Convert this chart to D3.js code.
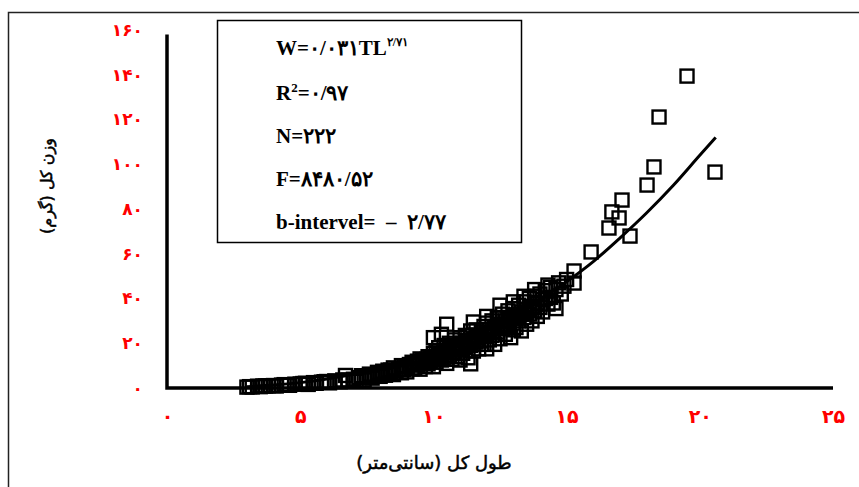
<!DOCTYPE html>
<html><head><meta charset="utf-8">
<script src="https://cdn.jsdelivr.net/npm/d3@7"></script>
<style>
html,body{margin:0;padding:0;background:#fff;}
svg{display:block;}
</style></head>
<body><svg id="c" width="859" height="487"></svg>
<script>
const xTicks = [0, 5, 10, 15, 20, 25];
const yTicks = [0, 20, 40, 60, 80, 100, 120, 140, 160];
const xTitle = "طول کل (سانتی‌متر)";
const yTitle = "وزن کل (گرم)";
const statLines = ["R", "N=۲۲۲", "F=۸۴۸۰/۵۲", "b-intervel=  –  ۲/۷۷"];
// scatter: [total length (cm), weight (g)]
const lengths = [3.0,3.1,3.2,3.4,3.5,3.7,3.8,4.0,4.1,4.3,4.5,4.6,4.8,5.0,5.1,5.3,5.5,5.6,5.8,6.0,6.1,6.3,6.5,6.7,6.8,7.0,7.1,
7.2,7.3,7.4,7.5,7.6,7.7,7.8,7.9,8.0,8.0,
8.1,8.2,8.3,8.3,8.4,8.5,8.5,8.6,8.7,8.8,8.8,8.9,9.0,9.0,
9.1,9.2,9.2,9.3,9.4,9.4,9.5,9.5,9.6,9.7,9.7,9.8,9.8,9.9,10.0,10.0,10.0,10.0,
10.1,10.1,10.2,10.2,10.3,10.3,10.3,10.4,10.4,10.5,10.5,10.5,10.6,10.6,10.7,10.7,10.8,10.8,10.9,10.9,11.0,11.0,11.0,
11.1,11.1,11.2,11.2,11.3,11.3,11.4,11.4,11.4,11.5,11.5,11.5,11.6,11.6,11.7,11.7,11.8,11.8,11.9,11.9,12.0,12.0,12.0,12.0,
12.1,12.1,12.2,12.2,12.3,12.3,12.4,12.4,12.5,12.5,12.5,12.6,12.6,12.7,12.7,12.8,12.8,12.9,12.9,13.0,13.0,13.0,13.0,
13.1,13.1,13.2,13.2,13.3,13.3,13.4,13.4,13.4,13.5,13.5,13.6,13.6,13.7,13.7,13.8,13.8,13.8,13.9,13.9,14.0,14.0,
14.1,14.1,14.2,14.3,14.3,14.4,14.4,14.5,14.6,14.6,14.7,14.8,14.9,15.0,
15.28,15.28,15.92,16.59,16.70,16.97,17.08,17.38,18.02,18.28,18.47,19.52,20.57,
8.4,8.9,9.3,9.6,9.9,10.2,10.4,10.6,10.8,11.0,11.2,11.3,11.6,11.8,12.1,12.3,12.6,12.8,13.1,13.3,13.6,13.9,14.2,7.6,8.1,3.6,4.4,5.2,5.9,6.6,
10.15,10.45,10.75,11.05,11.35,11.65,11.95,12.25,12.55,12.85,13.15,13.45,13.75,9.45,9.75];
const weights = [0.4,0.6,0.5,0.8,0.6,0.9,1.0,1.1,0.9,1.3,1.4,1.2,1.7,1.8,2.0,1.6,2.4,2.1,2.6,2.9,2.3,3.2,2.8,5.6,3.5,3.9,3.0,
4.6,5.5,3.6,5.0,6.2,4.4,5.8,7.0,5.2,6.6,
7.5,5.7,8.0,6.4,7.0,9.0,6.0,7.8,8.5,6.8,10.0,8.2,9.4,7.2,
10.5,8.6,11.5,9.0,12.0,10.2,8.4,13.0,11.0,9.6,12.6,14.0,10.8,12.0,15.5,9.5,13.0,22.5,
16.5,11.5,14.0,18.0,12.5,15.5,24.0,19.0,13.5,16.8,28.5,11.0,20.0,14.8,17.5,12.8,21.5,16.0,19.0,14.0,22.5,17.0,12.5,
20.0,15.5,23.5,18.0,21.0,13.5,10.8,25.5,19.0,22.0,16.5,29.5,26.0,20.5,23.5,17.5,25.0,21.0,27.5,19.5,24.0,29.0,17.5,32.0,
26.0,21.5,30.0,23.5,27.5,19.5,31.5,25.0,28.5,22.0,37.0,33.0,26.5,30.0,24.0,34.5,28.0,31.5,22.5,35.5,29.0,26.0,38.5,
32.5,27.0,37.0,30.0,34.0,25.5,38.5,31.5,41.0,35.0,28.5,40.0,33.0,36.5,30.0,41.0,34.5,44.0,38.0,32.0,42.0,36.0,
39.5,34.0,43.5,37.5,46.0,45.0,40.5,38.0,44.0,35.5,47.0,42.0,45.5,48.5,
52.3,46.9,60.8,71.5,78.7,76.0,84.0,67.9,90.7,98.8,121.1,139.4,96.5,
8.0,9.8,11.0,12.2,13.5,15.0,16.2,17.8,18.5,19.8,21.2,20.0,22.5,23.0,24.8,26.5,28.0,30.5,31.0,33.0,35.0,37.5,40.0,5.6,7.0,0.9,1.5,2.1,2.8,3.6,
13.0,14.5,16.0,17.5,19.5,21.5,23.0,25.0,27.0,29.5,31.5,33.5,36.0,11.0,12.8];
// fitted curve
const curveTL = [3, 4, 5, 6, 7, 8, 9, 10, 11, 12, 13, 14, 15, 16, 17, 18, 19, 20, 20.6];
const curveW  = [0.6, 1.3, 2.4, 4.0, 6.1, 8.8, 12.2, 16.0, 20.8, 26.2, 32.5, 39.5, 47.5, 56.5, 67.0, 78.2, 90.5, 104.0, 112.0];

const fa = s => String(s).replace(/[0-9]/g, d => "۰۱۲۳۴۵۶۷۸۹"[+d]);
const svg = d3.select("#c");
const x = d3.scaleLinear().domain([0, 25]).range([167, 833]);
const y = d3.scaleLinear().domain([0, 160]).range([388, 30]);

// outer frame
svg.append("rect").attr("x", 8.5).attr("y", 12.5).attr("width", 900).attr("height", 520)
  .attr("fill", "none").attr("stroke", "#222").attr("stroke-width", 1.5);

// tick labels
const gx = svg.append("g").attr("transform", "translate(0,406)")
  .call(d3.axisBottom(x).tickValues(xTicks).tickFormat(fa).tickSize(0));
gx.select(".domain").remove();
gx.selectAll("text").attr("fill", "#ff0000").style("font-family", "DejaVu Sans, sans-serif")
  .style("font-size", "19px").style("font-weight", "bold");

const gy = svg.append("g").attr("transform", "translate(143,0)")
  .call(d3.axisLeft(y).tickValues(yTicks).tickFormat(fa).tickSize(0).tickPadding(0));
gy.select(".domain").remove();
gy.selectAll("text").attr("fill", "#ff0000").style("font-family", "DejaVu Sans, sans-serif")
  .style("font-size", "17px").style("font-weight", "bold");

// axis lines
svg.append("path").attr("d", `M${x(0)},${y(158)}V${y(0)}H${x(25)}`)
  .attr("fill", "none").attr("stroke", "#000").attr("stroke-width", 3.5);

// points
const pts = lengths.map((l, i) => [l, weights[i]]);
const s = 13;
svg.append("g").selectAll("rect").data(pts).join("rect")
  .attr("x", d => x(d[0]) - s / 2).attr("y", d => y(d[1]) - s / 2)
  .attr("width", s).attr("height", s)
  .attr("fill", "none").attr("stroke", "#000").attr("stroke-width", 2.4);

// fitted curve
const cpts = curveTL.map((l, i) => [l, curveW[i]]);
svg.append("path").datum(cpts)
  .attr("d", d3.line().x(d => x(d[0])).y(d => y(d[1])).curve(d3.curveMonotoneX))
  .attr("fill", "none").attr("stroke", "#000").attr("stroke-width", 3);

// stats box
svg.append("rect").attr("x", 217.5).attr("y", 20.5).attr("width", 304).attr("height", 222)
  .attr("fill", "#fff").attr("stroke", "#000").attr("stroke-width", 1.5);
const tf = "'Liberation Serif', 'Times New Roman', serif";
const t1 = svg.append("text").attr("x", 276).attr("y", 55).attr("font-family", tf)
  .attr("font-weight", "bold").attr("font-size", 21).attr("fill", "#000");
t1.append("tspan").text("W=۰/۰۳۱TL");
t1.append("tspan").attr("dy", -9).attr("font-size", 12).text("۲/۷۱");
const t2 = svg.append("text").attr("x", 276).attr("y", 100).attr("font-family", tf)
  .attr("font-weight", "bold").attr("font-size", 21).attr("fill", "#000");
t2.append("tspan").text("R");
t2.append("tspan").attr("dy", -8).attr("font-size", 13).text("2");
t2.append("tspan").attr("dy", 8).text("=۰/۹۷");
svg.selectAll(".st").data(statLines.slice(1)).join("text").attr("class", "st")
  .attr("x", 276).attr("y", (d, i) => 143 + i * 43)
  .attr("font-family", tf).attr("font-weight", "bold").attr("font-size", 21)
  .attr("fill", "#000").style("white-space", "pre").attr("xml:space", "preserve").text(d => d);

// titles
svg.append("text").attr("x", 434).attr("y", 469).attr("text-anchor", "middle")
  .attr("font-family", "DejaVu Sans, sans-serif").attr("font-size", 18)
  .attr("stroke", "#000").attr("stroke-width", 0.5)
  .attr("direction", "rtl").attr("fill", "#000").text(xTitle);
svg.append("text").attr("transform", "translate(52,186) rotate(-90)").attr("text-anchor", "middle")
  .attr("font-family", "DejaVu Sans, sans-serif").attr("font-size", 16)
  .attr("stroke", "#000").attr("stroke-width", 0.5)
  .attr("direction", "rtl").attr("fill", "#000").text(yTitle);
</script></body></html>
